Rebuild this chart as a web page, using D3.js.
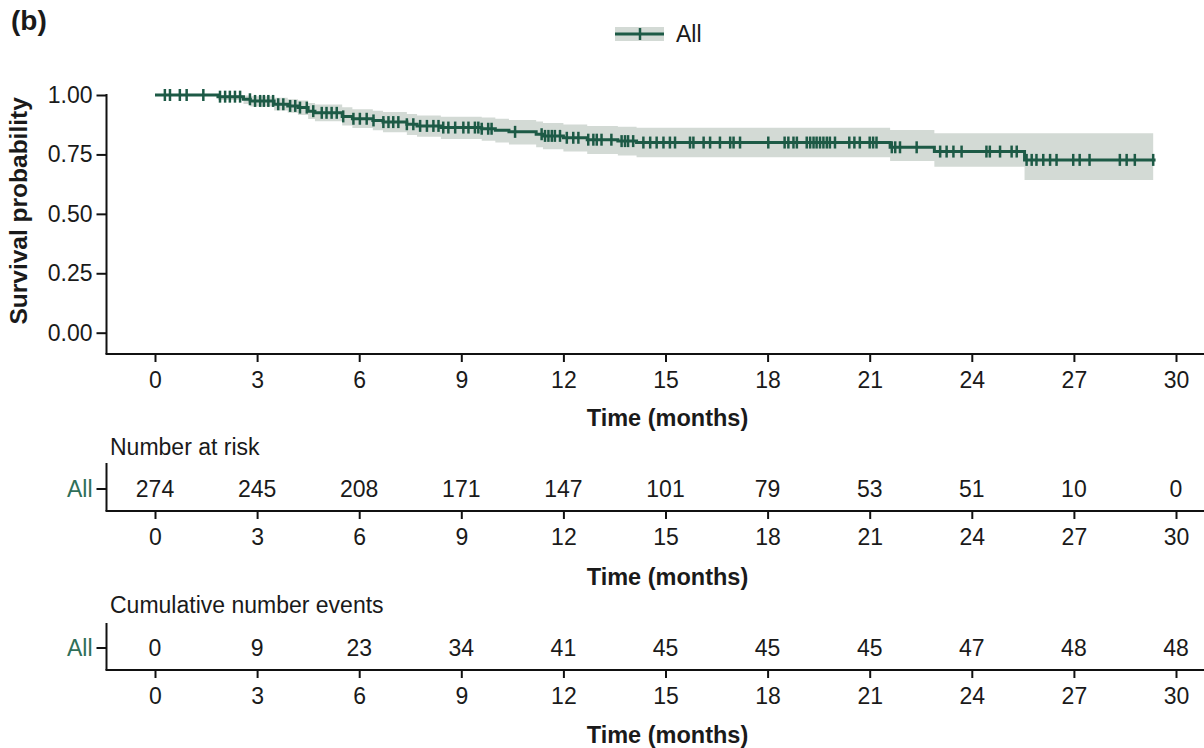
<!DOCTYPE html>
<html>
<head>
<meta charset="utf-8">
<script src="https://cdn.jsdelivr.net/npm/d3@7"></script>
<style>
  html, body { margin: 0; padding: 0; background: #ffffff; }
  svg { display: block; font-family: "Liberation Sans", Arial, sans-serif; }
</style>
</head>
<body>
<svg id="chart" width="1204" height="748"></svg>
<script>
// ---- data ----
const stepTimes = [0, 1.85, 2.6, 2.8, 3.5, 3.9, 4.2, 4.5, 4.7, 5.5, 5.8, 6.4, 6.7, 7.4, 7.7, 8.4, 9.6, 10.0, 10.4, 11.2, 11.4, 12.0, 12.7, 13.6, 14.15, 21.6, 22.9, 25.55];
const survival  = [1.000, 0.993, 0.982, 0.975, 0.961, 0.954, 0.947, 0.932, 0.925, 0.910, 0.900, 0.893, 0.886, 0.877, 0.870, 0.863, 0.858, 0.852, 0.845, 0.835, 0.828, 0.820, 0.812, 0.806, 0.800, 0.780, 0.762, 0.727];
const lowerCI   = [1.000, 0.979, 0.962, 0.952, 0.935, 0.925, 0.916, 0.899, 0.890, 0.872, 0.861, 0.852, 0.843, 0.832, 0.824, 0.815, 0.808, 0.800, 0.792, 0.780, 0.772, 0.762, 0.752, 0.745, 0.738, 0.722, 0.698, 0.642];
const upperCI   = [1.000, 1.000, 0.998, 0.995, 0.988, 0.982, 0.977, 0.966, 0.960, 0.948, 0.940, 0.934, 0.928, 0.920, 0.914, 0.909, 0.905, 0.900, 0.895, 0.888, 0.882, 0.876, 0.870, 0.866, 0.862, 0.853, 0.839, 0.839];
const curveEnd = 29.4;
const bandEnd = 29.33;
const censorTimes = [0.29, 0.44, 0.73, 0.93, 1.42, 1.91, 2.06, 2.2, 2.35, 2.5, 2.79, 2.94, 3.09, 3.2, 3.33, 3.47, 3.62, 3.77, 3.97, 4.12, 4.26, 4.46, 4.65, 4.9, 5.04, 5.19, 5.34, 5.53, 5.83, 6.02, 6.22, 6.42, 6.71, 6.86, 7.0, 7.15, 7.4, 7.59, 7.79, 7.99, 8.18, 8.33, 8.47, 8.62, 8.82, 9.06, 9.21, 9.4, 9.5, 9.6, 9.79, 9.89, 10.58, 11.36, 11.46, 11.56, 11.66, 11.75, 11.9, 12.1, 12.29, 12.44, 12.73, 12.88, 12.98, 13.12, 13.41, 13.71, 13.81, 13.9, 14.05, 14.35, 14.55, 14.74, 14.94, 15.13, 15.28, 15.72, 15.82, 16.12, 16.31, 16.6, 16.9, 17.0, 17.19, 18.02, 18.5, 18.61, 18.76, 18.86, 19.15, 19.25, 19.35, 19.44, 19.54, 19.64, 19.74, 19.83, 19.98, 20.4, 20.55, 20.71, 21.0, 21.1, 21.2, 21.65, 21.75, 21.89, 22.38, 23.07, 23.26, 23.46, 23.7, 24.43, 24.53, 24.83, 25.17, 25.32, 25.61, 25.76, 25.9, 26.1, 26.3, 26.49, 26.98, 27.17, 27.46, 28.35, 28.55, 28.79, 29.33];

const timeTicks = [0, 3, 6, 9, 12, 15, 18, 21, 24, 27, 30];
const survTicks = [0, 0.25, 0.5, 0.75, 1.0];
const numberAtRisk = [274, 245, 208, 171, 147, 101, 79, 53, 51, 10, 0];
const cumulativeEvents = [0, 9, 23, 34, 41, 45, 45, 45, 47, 48, 48];
const groupName = "All";

// ---- styles ----
const lineColor = "#1d5a46";
const bandColor = "#d3dad5";
const labelGreen = "#2f6f59";
const textColor = "#1a1a1a";
const fs = 23;

const svg = d3.select("#chart");
const axisLeftX = 106.5;
const rightEdge = 1204;

const x = d3.scaleLinear().domain([0, 30]).range([155, 1176]);
const y = d3.scaleLinear().domain([0, 1]).range([332.7, 95]);

// panel letter
svg.append("text").attr("x", 11).attr("y", 30)
  .attr("font-size", 28).attr("font-weight", "bold").attr("fill", textColor).text("(b)");

// ---- legend ----
const lg = svg.append("g");
lg.append("rect").attr("x", 615).attr("y", 27).attr("width", 49).attr("height", 14).attr("fill", bandColor);
lg.append("line").attr("x1", 615).attr("x2", 664).attr("y1", 34).attr("y2", 34).attr("stroke", lineColor).attr("stroke-width", 3);
lg.append("line").attr("x1", 640).attr("x2", 640).attr("y1", 28).attr("y2", 40).attr("stroke", lineColor).attr("stroke-width", 2.5);
lg.append("text").attr("x", 676).attr("y", 42).attr("font-size", fs).attr("fill", textColor).text(groupName);

// ---- main plot ----
const steps = stepTimes.map((t, i) => ({t, s: survival[i], lo: lowerCI[i], hi: upperCI[i]}));
const bandData = steps.concat([{t: bandEnd, s: survival[survival.length-1], lo: lowerCI[lowerCI.length-1], hi: upperCI[upperCI.length-1]}]);
const lineData = steps.concat([{t: curveEnd, s: survival[survival.length-1]}]);

svg.append("path").datum(bandData)
  .attr("fill", bandColor)
  .attr("d", d3.area().curve(d3.curveStepAfter).x(d => x(d.t)).y0(d => y(d.lo)).y1(d => y(d.hi)));

svg.append("path").datum(lineData)
  .attr("fill", "none").attr("stroke", lineColor).attr("stroke-width", 3)
  .attr("d", d3.line().curve(d3.curveStepAfter).x(d => x(d.t)).y(d => y(d.s)));

const bis = d3.bisector(d => d).right;
svg.append("g").selectAll("line").data(censorTimes).join("line")
  .attr("x1", d => x(d)).attr("x2", d => x(d))
  .attr("y1", d => y(survival[bis(stepTimes, d) - 1]) - 6)
  .attr("y2", d => y(survival[bis(stepTimes, d) - 1]) + 6)
  .attr("stroke", lineColor).attr("stroke-width", 2.5);

// axes
function styleAxis(g) {
  g.select(".domain").remove();
  g.selectAll(".tick line").attr("stroke", "#111").attr("stroke-width", 2);
  g.selectAll(".tick text").attr("font-size", fs).attr("fill", textColor).attr("font-family", "Liberation Sans, Arial, sans-serif");
}

const yAxisG = svg.append("g").attr("transform", `translate(${axisLeftX},0)`)
  .call(d3.axisLeft(y).tickValues(survTicks).tickFormat(d3.format(".2f")).tickSize(10).tickPadding(4));
styleAxis(yAxisG);
svg.append("line").attr("x1", axisLeftX).attr("x2", axisLeftX).attr("y1", y(1) - 1).attr("y2", 354)
  .attr("stroke", "#111").attr("stroke-width", 2);

function timeAxis(yPos, titleY) {
  const g = svg.append("g").attr("transform", `translate(0,${yPos})`)
    .call(d3.axisBottom(x).tickValues(timeTicks).tickSize(8).tickPadding(10));
  styleAxis(g);
  svg.append("line").attr("x1", axisLeftX - 1).attr("x2", rightEdge).attr("y1", yPos).attr("y2", yPos)
    .attr("stroke", "#111").attr("stroke-width", 2);
  svg.append("text").attr("x", x(15) + 2).attr("y", titleY).attr("text-anchor", "middle")
    .attr("font-size", 23.5).attr("font-weight", "bold").attr("fill", textColor).text("Time (months)");
}

timeAxis(354, 426);

svg.append("text")
  .attr("transform", `translate(27,${(95 + 332.7) / 2 - 3}) rotate(-90)`)
  .attr("text-anchor", "middle").attr("font-size", 24.5).attr("font-weight", "bold").attr("fill", textColor)
  .text("Survival probability");

// ---- risk tables ----
function riskTable(title, values, titleY, topY, rowY, axisY, timeTitleY) {
  svg.append("text").attr("x", 110).attr("y", titleY).attr("font-size", fs).attr("fill", textColor).text(title);
  svg.append("line").attr("x1", axisLeftX).attr("x2", axisLeftX).attr("y1", topY).attr("y2", axisY)
    .attr("stroke", "#111").attr("stroke-width", 2);
  svg.append("line").attr("x1", axisLeftX - 10).attr("x2", axisLeftX).attr("y1", rowY).attr("y2", rowY)
    .attr("stroke", "#111").attr("stroke-width", 2);
  svg.append("text").attr("x", axisLeftX - 14).attr("y", rowY + 8).attr("text-anchor", "end")
    .attr("font-size", fs).attr("fill", labelGreen).text(groupName);
  svg.append("g").selectAll("text").data(values).join("text")
    .attr("x", (d, i) => x(timeTicks[i])).attr("y", rowY + 8).attr("text-anchor", "middle")
    .attr("font-size", fs).attr("fill", textColor).text(d => d);
  timeAxis(axisY, timeTitleY);
}

riskTable("Number at risk", numberAtRisk, 455, 463, 489, 511, 585);
riskTable("Cumulative number events", cumulativeEvents, 613, 623, 648, 670, 743);
</script>
</body>
</html>
